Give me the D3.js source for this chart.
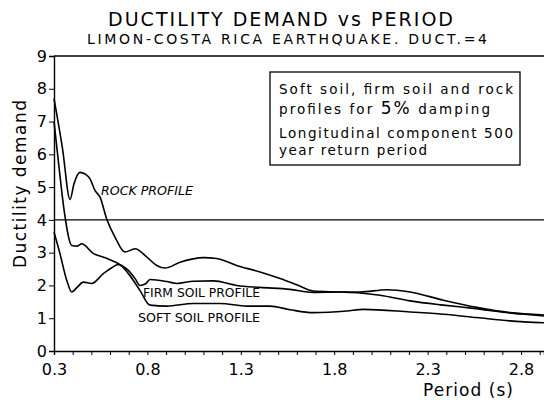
<!DOCTYPE html>
<html>
<head>
<meta charset="utf-8">
<script src="https://cdn.jsdelivr.net/npm/d3@7"></script>
<style>
  body { margin: 0; background: #fff; }
  svg { display: block; font-family: "DejaVu Sans", sans-serif; }
</style>
</head>
<body>
<svg></svg>
<script>
// values
const yTicks = [0, 1, 2, 3, 4, 5, 6, 7, 8, 9];
const xMajor = [0.3, 0.8, 1.3, 1.8, 2.3, 2.8];
const xMinor = d3.range(3, 30).map((d) => d / 10);
const demandLine = 4;

const rockPeriod = [0.30, 0.345, 0.386, 0.407, 0.439, 0.466, 0.493, 0.519, 0.546, 0.582, 0.627, 0.68, 0.734, 0.796, 0.85, 0.894, 0.975, 1.10, 1.17, 1.278, 1.403, 1.51, 1.60, 1.688, 1.83, 1.938, 2.045, 2.206, 2.384, 2.545, 2.741, 2.923];
const rockDuct = [7.7, 6.2, 4.62, 5.1, 5.45, 5.4, 5.25, 4.9, 4.7, 4.03, 3.47, 3.02, 3.12, 2.87, 2.61, 2.53, 2.71, 2.85, 2.82, 2.61, 2.41, 2.21, 2.02, 1.83, 1.80, 1.77, 1.70, 1.53, 1.40, 1.30, 1.16, 1.07];

const firmPeriod = [0.30, 0.327, 0.354, 0.395, 0.425, 0.448, 0.51, 0.582, 0.662, 0.698, 0.735, 0.76, 0.79, 0.814, 0.903, 0.957, 1.046, 1.153, 1.278, 1.403, 1.563, 1.688, 1.83, 1.938, 2.081, 2.206, 2.384, 2.563, 2.741, 2.923];
const firmDuct = [7.0, 5.6, 4.3, 3.22, 3.2, 3.27, 2.98, 2.83, 2.61, 2.46, 2.2, 2.0, 2.05, 2.18, 2.12, 2.06, 2.13, 2.14, 2.0, 1.94, 1.88, 1.79, 1.80, 1.80, 1.87, 1.80, 1.55, 1.33, 1.17, 1.10];

const softPeriod = [0.30, 0.332, 0.368, 0.395, 0.425, 0.457, 0.502, 0.564, 0.609, 0.644, 0.698, 0.76, 0.814, 0.903, 1.046, 1.189, 1.332, 1.456, 1.563, 1.688, 1.867, 1.956, 2.206, 2.384, 2.563, 2.741, 2.923];
const softDuct = [3.63, 2.97, 2.16, 1.80, 1.95, 2.1, 2.06, 2.36, 2.54, 2.64, 2.36, 1.85, 1.40, 1.37, 1.45, 1.45, 1.37, 1.37, 1.26, 1.17, 1.22, 1.27, 1.19, 1.12, 1.02, 0.92, 0.86];

let width = 544;
let height = 402;
let svg = d3.select("svg").attr("width", width).attr("height", height);

let x = d3.scaleLinear().domain([0.3, 2.923]).range([54, 544]);
let y = d3.scaleLinear().domain([0, 9]).range([351, 56]);

// titles
svg.append("text")
  .attr("x", 108).attr("y", 26)
  .attr("textLength", 345).attr("lengthAdjust", "spacing")
  .style("font-size", "19px")
  .text("DUCTILITY DEMAND vs PERIOD");
svg.append("text")
  .attr("x", 87).attr("y", 43.5)
  .attr("textLength", 400).attr("lengthAdjust", "spacing")
  .style("font-size", "14px")
  .text("LIMON-COSTA RICA EARTHQUAKE. DUCT.=4");

// y axis
let yAxis = svg.append("g")
  .attr("transform", "translate(54,0)")
  .call(d3.axisLeft(y).tickValues(yTicks).tickFormat(d3.format("d")).tickSize(5).tickPadding(2));
yAxis.select(".domain").attr("stroke-width", 1.4);
yAxis.selectAll("text").style("font-size", "16px").style("font-family", "DejaVu Sans");

// x axis, minor ticks every 0.1 and labels every 0.5
let xAxis = svg.append("g")
  .attr("transform", "translate(0,351)")
  .call(d3.axisBottom(x).tickValues(xMinor).tickSize(4)
    .tickFormat((d) => xMajor.some((m) => Math.abs(m - d) < 1e-6) ? d3.format(".1f")(d) : ""));
xAxis.select(".domain").attr("stroke-width", 1.4);
xAxis.selectAll("text").style("font-size", "16px").style("font-family", "DejaVu Sans").attr("dy", "1.05em");

// top frame and ductility 4 line
svg.append("line")
  .attr("x1", 54).attr("x2", 544)
  .attr("y1", y(9)).attr("y2", y(9))
  .attr("stroke", "#000").attr("stroke-width", 1.3);
svg.append("line")
  .attr("x1", 54).attr("x2", 544)
  .attr("y1", y(demandLine)).attr("y2", y(demandLine))
  .attr("stroke", "#000").attr("stroke-width", 1.3);

// axis labels
svg.append("text")
  .attr("transform", "translate(26,184) rotate(-90)")
  .attr("text-anchor", "middle")
  .attr("textLength", 168).attr("lengthAdjust", "spacing")
  .style("font-size", "17px")
  .text("Ductility demand");
svg.append("text")
  .attr("x", 423).attr("y", 396)
  .attr("textLength", 90).attr("lengthAdjust", "spacing")
  .style("font-size", "17px")
  .text("Period (s)");

// curves
let line = d3.line()
  .x((d) => x(d[0]))
  .y((d) => y(d[1]))
  .curve(d3.curveMonotoneX);

let series = [
  [rockPeriod, rockDuct],
  [firmPeriod, firmDuct],
  [softPeriod, softDuct],
];
series.forEach((s) => {
  svg.append("path")
    .datum(d3.zip(s[0], s[1]))
    .attr("d", line)
    .attr("fill", "none")
    .attr("stroke", "#000")
    .attr("stroke-width", 1.6);
});

// curve labels
let labels = [
  { t: "ROCK PROFILE", x: 101, y: 195, w: 92, it: true },
  { t: "FIRM SOIL PROFILE", x: 143, y: 296.5, w: 117, it: false },
  { t: "SOFT SOIL PROFILE", x: 138, y: 321.5, w: 122, it: false },
];
labels.forEach((l) => {
  svg.append("text")
    .attr("x", l.x).attr("y", l.y)
    .attr("textLength", l.w).attr("lengthAdjust", "spacingAndGlyphs")
    .style("font-size", "11.5px")
    .style("font-style", l.it ? "italic" : "normal")
    .text(l.t);
});

// note box
svg.append("rect")
  .attr("x", 270).attr("y", 72)
  .attr("width", 250).attr("height", 93)
  .attr("fill", "#fff").attr("stroke", "#000").attr("stroke-width", 1.3);

svg.append("text")
  .attr("x", 279).attr("y", 94)
  .attr("textLength", 234).attr("lengthAdjust", "spacing")
  .style("font-size", "13.5px")
  .text("Soft soil, firm soil and rock");
let t2 = svg.append("text").attr("x", 279).attr("y", 114)
  .attr("textLength", 211).attr("lengthAdjust", "spacing")
  .style("font-size", "13.5px");
t2.append("tspan").text("profiles for ");
t2.append("tspan").style("font-size", "17px").text("5%");
t2.append("tspan").text(" damping");
svg.append("text")
  .attr("x", 279).attr("y", 138)
  .attr("textLength", 234).attr("lengthAdjust", "spacing")
  .style("font-size", "13.5px")
  .text("Longitudinal component 500");
svg.append("text")
  .attr("x", 279).attr("y", 155)
  .attr("textLength", 148).attr("lengthAdjust", "spacing")
  .style("font-size", "13.5px")
  .text("year return period");
</script>
</body>
</html>
